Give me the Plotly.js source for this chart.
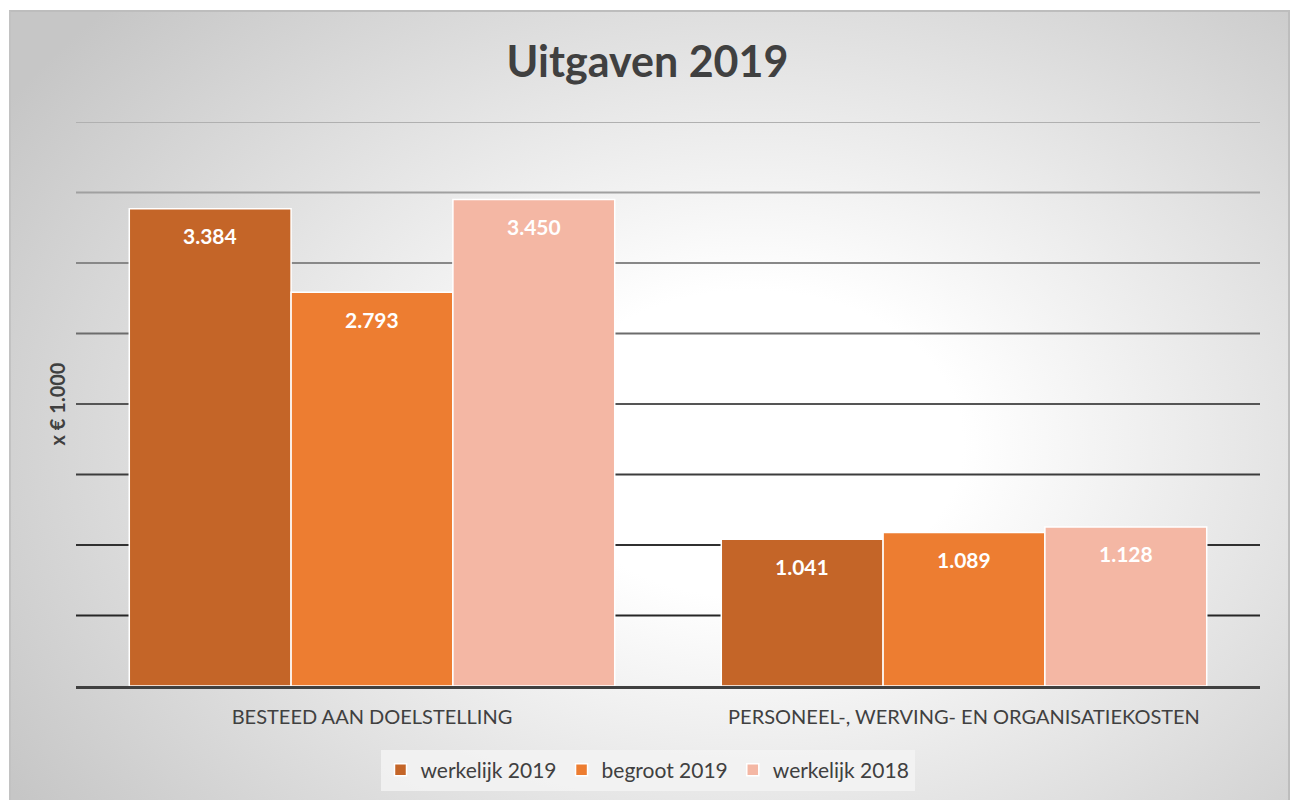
<!DOCTYPE html>
<html>
<head>
<meta charset="utf-8">
<script src="https://cdn.plot.ly/plotly-3.0.1.min.js"></script>
<style>
  html, body { margin: 0; padding: 0; background: #ffffff; overflow: hidden; }
  #panel {
    position: absolute; left: 9px; top: 10px; width: 1277px; height: 800px;
    border-top: 2px solid #bdbdbd; border-left: 2px solid #c2c2c2; border-right: 2px solid #bdbdbd;
    background: radial-gradient(ellipse 880px 640px at 58% 54%, #ffffff 0%, #ffffff 24%, #c6c6c6 100%);
  }
  #chart { position: absolute; left: 0; top: 0; width: 1295px; height: 800px; }
</style>
</head>
<body>
<div id="panel"></div>
<div id="chart"></div>
<script>
// ---- data ----
const categories = ["BESTEED AAN DOELSTELLING", "PERSONEEL-, WERVING- EN ORGANISATIEKOSTEN"];
const seriesNames = ["werkelijk 2019", "begroot 2019", "werkelijk 2018"];
const werkelijk2019 = [3384, 1041];
const begroot2019 = [2793, 1089];
const werkelijk2018 = [3450, 1128];
const gridValues = [500, 1000, 1500, 2000, 2500, 3000, 3500, 4000];

// ---- style ----
const colors = ["#C46528", "#ED7D31", "#F4B7A4"];
const gridColors = ["#262626", "#303030", "#3c3c3c", "#555555", "#6c6c6c", "#888888", "#a0a0a0", "#b0b0b0"];
const FONT = "Lato, 'Open Sans', sans-serif";
const W = 1295, H = 800;
const margin = { l: 76, r: 35, t: 122, b: 114 };
const bargap = 0.18;

const seriesValues = [werkelijk2019, begroot2019, werkelijk2018];

function fmt(v) {
  return String(v).replace(/\B(?=(\d{3})+(?!\d))/g, ".");
}

const traces = seriesValues.map((vals, s) => ({
  type: "bar",
  name: seriesNames[s],
  x: categories,
  y: vals,
  marker: { color: colors[s], line: { color: "#ffffff", width: 1.5 } },
  hoverinfo: "skip",
  textposition: "none"
}));

// bar geometry derived from layout settings (for label placement)
const plotW = W - margin.l - margin.r;
const barW = plotW / categories.length * (1 - bargap) / seriesValues.length;

const annotations = [];
seriesValues.forEach((vals, s) => {
  vals.forEach((v, i) => {
    annotations.push({
      x: categories[i], y: v, xref: "x", yref: "y",
      xshift: (s - (seriesValues.length - 1) / 2) * barW,
      yshift: -27,
      yanchor: "middle",
      text: "<b>" + fmt(v) + "</b>",
      showarrow: false,
      font: { family: FONT, size: 21, color: "#ffffff" }
    });
  });
});

const shapes = gridValues.map((g, k) => ({
  type: "line", xref: "paper", x0: 0, x1: 1, yref: "y", y0: g, y1: g,
  layer: "below",
  line: { color: gridColors[k], width: 2 }
}));

const layout = {
  width: W, height: H,
  margin: margin,
  paper_bgcolor: "rgba(0,0,0,0)",
  plot_bgcolor: "rgba(0,0,0,0)",
  barmode: "group",
  bargap: bargap,
  bargroupgap: 0,
  title: {
    text: "<b>Uitgaven 2019</b>",
    font: { family: FONT, size: 43, color: "#404040" },
    x: 0.5, xref: "container", xanchor: "center",
    y: 1 - 62 / H, yref: "container", yanchor: "middle"
  },
  xaxis: {
    type: "category",
    showgrid: false,
    showline: true, linecolor: "#404040", linewidth: 3,
    ticks: "",
    ticklabelstandoff: 11,
    tickfont: { family: FONT, size: 20, color: "#404040" },
    fixedrange: true
  },
  yaxis: {
    range: [0, 4000],
    showgrid: false, zeroline: false, showline: false,
    showticklabels: false, ticks: "",
    title: { text: "<b>x € 1.000</b>", font: { family: FONT, size: 20, color: "#404040" }, standoff: 4 },
    fixedrange: true
  },
  shapes: shapes,
  annotations: annotations,
  showlegend: true,
  legend: {
    orientation: "h",
    xref: "container", x: 0.5, xanchor: "center",
    yref: "container", y: 1 - 770 / H, yanchor: "middle",
    bgcolor: "rgba(243,243,243,0.85)",
    font: { family: FONT, size: 21, color: "#404040" },
    traceorder: "normal",
    itemclick: false, itemdoubleclick: false
  }
};

Plotly.newPlot("chart", traces, layout, { displayModeBar: false, staticPlot: true });
</script>
</body>
</html>
